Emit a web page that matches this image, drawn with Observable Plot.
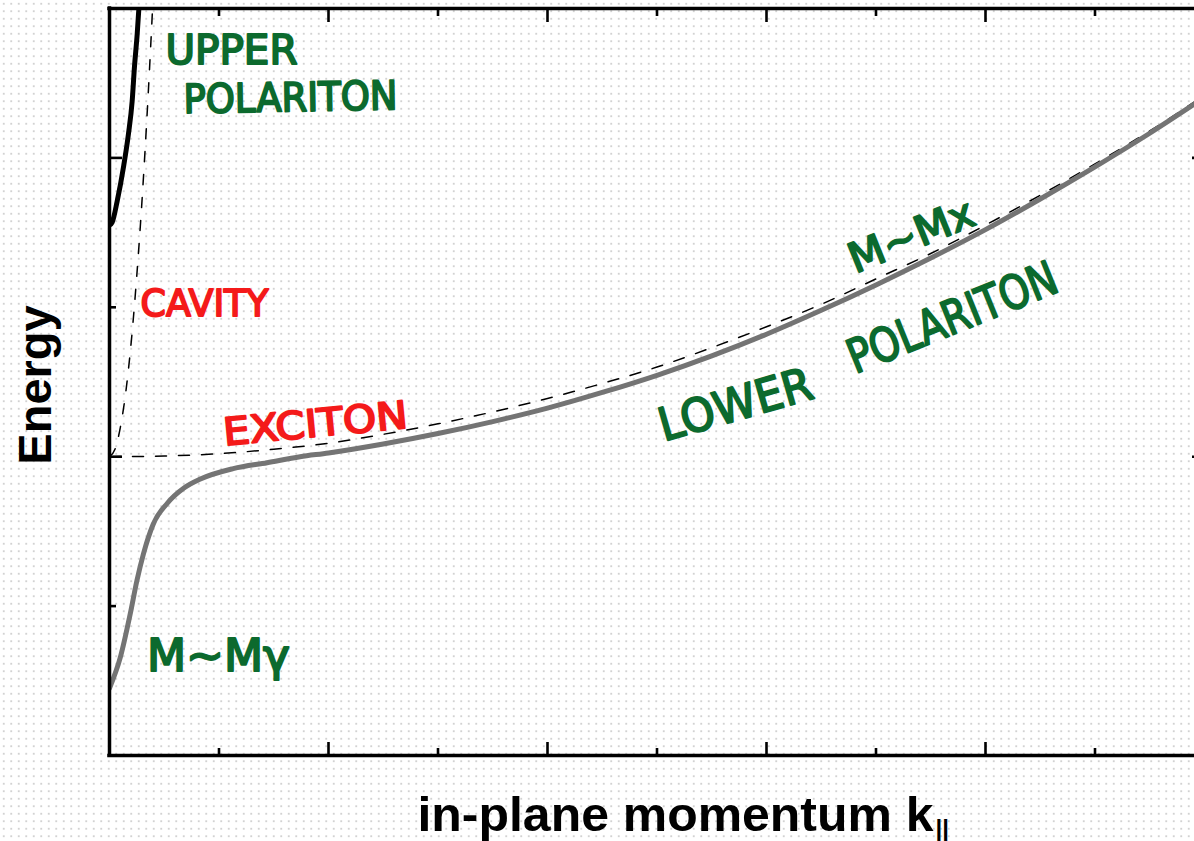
<!DOCTYPE html>
<html><head><meta charset="utf-8">
<script src="https://cdn.jsdelivr.net/npm/d3@7"></script>
<script src="https://cdn.jsdelivr.net/npm/@observablehq/plot@0.6"></script>
<style>
html,body{margin:0;padding:0;}
body{width:1194px;height:841px;overflow:hidden;background-color:#fff;
  background-image:radial-gradient(circle,#d2d2d2 0.7px,transparent 1px);background-size:7.5px 7.5px;}
#chart svg{display:block;}
</style></head><body><div id="chart"></div>
<script>
// ---- axis ticks (momentum in arbitrary units, energy in arbitrary units)
const kTicksMajor = [2, 4, 6, 8];
const kTicksMinor = [1, 3, 5, 7, 9];
const eTicksMajor = [2, 4];
const eTicksMinor = [1, 3];

// ---- exciton dispersion (dashed)
const excitonK = [0, 0.5, 1, 1.5, 2, 2.5, 3, 3.5, 4, 4.5, 5, 5.5, 6, 6.5, 7, 7.5, 8, 8.5, 9, 9.5, 10];
const excitonE = [2.0, 2.005, 2.02, 2.05, 2.09, 2.15, 2.22, 2.30, 2.39, 2.49, 2.60, 2.73, 2.87, 3.02, 3.19, 3.36, 3.55, 3.75, 3.96, 4.18, 4.42];

// ---- cavity photon dispersion (dashed)
const cavityK = [0, 0.05, 0.1, 0.15, 0.2, 0.25, 0.3, 0.35, 0.4];
const cavityE = [2.0, 2.05, 2.2, 2.44, 2.78, 3.22, 3.75, 4.38, 5.1];

// ---- upper polariton (black)
const upperK = [0, 0.025, 0.07, 0.128, 0.173, 0.207, 0.228, 0.253, 0.27];
const upperE = [3.55, 3.57, 3.71, 3.94, 4.16, 4.38, 4.61, 4.83, 5.02];

// ---- lower polariton (grey)
const lowerK = [0, 0.1, 0.19, 0.25, 0.31, 0.4, 0.53, 0.68, 0.83, 1.13, 1.44, 1.74, 2.0, 2.5, 3.0, 3.5, 4.0, 4.5, 5.0, 5.5, 6.0, 6.5, 7.0, 7.5, 8.0, 8.5, 9.0, 9.5, 10.0];
const lowerE = [0.45, 0.66, 0.95, 1.17, 1.35, 1.55, 1.69, 1.79, 1.85, 1.92, 1.96, 2.0, 2.025, 2.085, 2.155, 2.235, 2.325, 2.43, 2.545, 2.675, 2.82, 2.98, 3.15, 3.33, 3.52, 3.725, 3.94, 4.165, 4.405];

// ---- hand-written annotations
const noteText = ["UPPER", "POLARITON", "CAVITY", "EXCITON", "M~Mγ", "M~Mx", "LOWER", "POLARITON"];
const noteK = [1.114, 1.653, 0.868, 1.881, 0.995, 7.324, 5.717, 7.699];
const noteE = [4.712, 4.398, 3.025, 2.216, 0.663, 3.474, 2.343, 2.925];

const xLabel = "in-plane momentum k";
const xLabelSub = "||";
const yLabel = "Energy";

// ---- styles
const GREEN = "#0c6a2e", RED = "#f41a1a";
const noteStyle = [
  {color: GREEN, size: 40, rotate: 0, length: 132},
  {color: GREEN, size: 40, rotate: -1, length: 214},
  {color: RED, size: 38, rotate: 0, length: 128},
  {color: RED, size: 38, rotate: -5.5, length: 185},
  {color: GREEN, size: 44, rotate: 0, length: 143},
  {color: GREEN, size: 41, rotate: -22, length: 132},
  {color: GREEN, size: 46, rotate: -16, length: 158},
  {color: GREEN, size: 47, rotate: -22, length: 222}
];

const rows = (K, E) => K.map((k, i) => ({k, e: E[i]}));
const notes = noteText.map((t, i) => ({text: t, k: noteK[i], e: noteE[i]}));

const handFont = "DejaVu Sans";
const axisFont = "Liberation Sans, Arial, Helvetica, sans-serif";

const noteMarks = notes.map((n, i) => Plot.text([n], {
  x: "k", y: "e", text: "text",
  rotate: noteStyle[i].rotate,
  fontSize: noteStyle[i].size,
  fontFamily: handFont,
  fill: noteStyle[i].color,
  stroke: noteStyle[i].color,
  strokeWidth: 2,
  strokeLinejoin: "round",
  textAnchor: "middle",
  lineAnchor: "middle"
}));

const tickStyle = {fill: "none", stroke: "black", strokeWidth: 2.6};

const chart = Plot.plot({
  width: 1194,
  height: 841,
  marginLeft: 109,
  marginRight: 0,
  marginTop: 8,
  marginBottom: 86,
  x: {domain: [0, 10], range: [109, 1204], axis: null},
  y: {domain: [0, 5], axis: null},
  style: {background: "transparent", overflow: "visible"},
  marks: [
    // dashed uncoupled modes
    Plot.line(rows(excitonK, excitonE), {x: "k", y: "e", curve: "monotone-x", stroke: "black", strokeWidth: 1.5, strokeDasharray: "11,12", clip: true}),
    Plot.line(rows(cavityK, cavityE), {x: "k", y: "e", curve: "monotone-x", stroke: "black", strokeWidth: 1.5, strokeDasharray: "10,13", clip: true}),
    // polariton branches
    Plot.line(rows(lowerK, lowerE), {x: "k", y: "e", curve: "monotone-x", stroke: "#747474", strokeWidth: 5, clip: true}),
    Plot.line(rows(upperK, upperE), {x: "k", y: "e", curve: "monotone-x", stroke: "black", strokeWidth: 5, clip: true}),
    // frame
    Plot.ruleY([0, 5], {y: d => d, x1: () => 0, x2: () => 10, stroke: "black", strokeWidth: 3.5, strokeLinecap: "square"}),
    Plot.ruleX([0, 10], {x: d => d, y1: () => 0, y2: () => 5, stroke: "black", strokeWidth: 3.5, strokeLinecap: "square"}),
    // inward ticks
    Plot.axisX(kTicksMajor, {anchor: "bottom", tickSize: -13, ...tickStyle}),
    Plot.axisX(kTicksMinor, {anchor: "bottom", tickSize: -7, ...tickStyle}),
    Plot.axisX(kTicksMajor, {anchor: "top", tickSize: -13, ...tickStyle}),
    Plot.axisX(kTicksMinor, {anchor: "top", tickSize: -7, ...tickStyle}),
    Plot.axisY(eTicksMajor, {anchor: "left", tickSize: -13, ...tickStyle}),
    Plot.axisY(eTicksMinor, {anchor: "left", tickSize: -7, ...tickStyle}),
    Plot.axisY(eTicksMajor, {anchor: "right", tickSize: -13, dx: 10, ...tickStyle}),
    Plot.axisY(eTicksMinor, {anchor: "right", tickSize: -7, dx: 10, ...tickStyle}),
    // annotations
    ...noteMarks,
    // axis labels
    Plot.text([yLabel], {frameAnchor: "left", text: d => d, rotate: -90, dx: -59, dy: 3, textAnchor: "middle", lineAnchor: "bottom", fontSize: 47, fontWeight: "bold", fontFamily: axisFont, fill: "black"}),
    Plot.text([xLabel], {frameAnchor: "bottom-left", text: d => d, dx: 308, dy: 75, textAnchor: "start", lineAnchor: "bottom", fontSize: 48, fontWeight: "bold", fontFamily: axisFont, fill: "black"}),
    Plot.text([xLabelSub], {frameAnchor: "bottom-left", text: d => d, dx: 826, dy: 81, textAnchor: "start", lineAnchor: "bottom", fontSize: 24, fontWeight: "bold", fontFamily: axisFont, fill: "black"})
  ]
});

// fit hand-written labels and x label to their measured widths
const fits = notes.map((n, i) => ({text: n.text, length: noteStyle[i].length})).concat([{text: xLabel, length: 516}]);
let fi = 0;
chart.querySelectorAll("text").forEach(el => {
  if (fi < fits.length && el.textContent === fits[fi].text) {
    el.setAttribute("textLength", fits[fi].length);
    el.setAttribute("lengthAdjust", "spacingAndGlyphs");
    fi++;
  }
});
document.getElementById("chart").appendChild(chart);
</script></body></html>
